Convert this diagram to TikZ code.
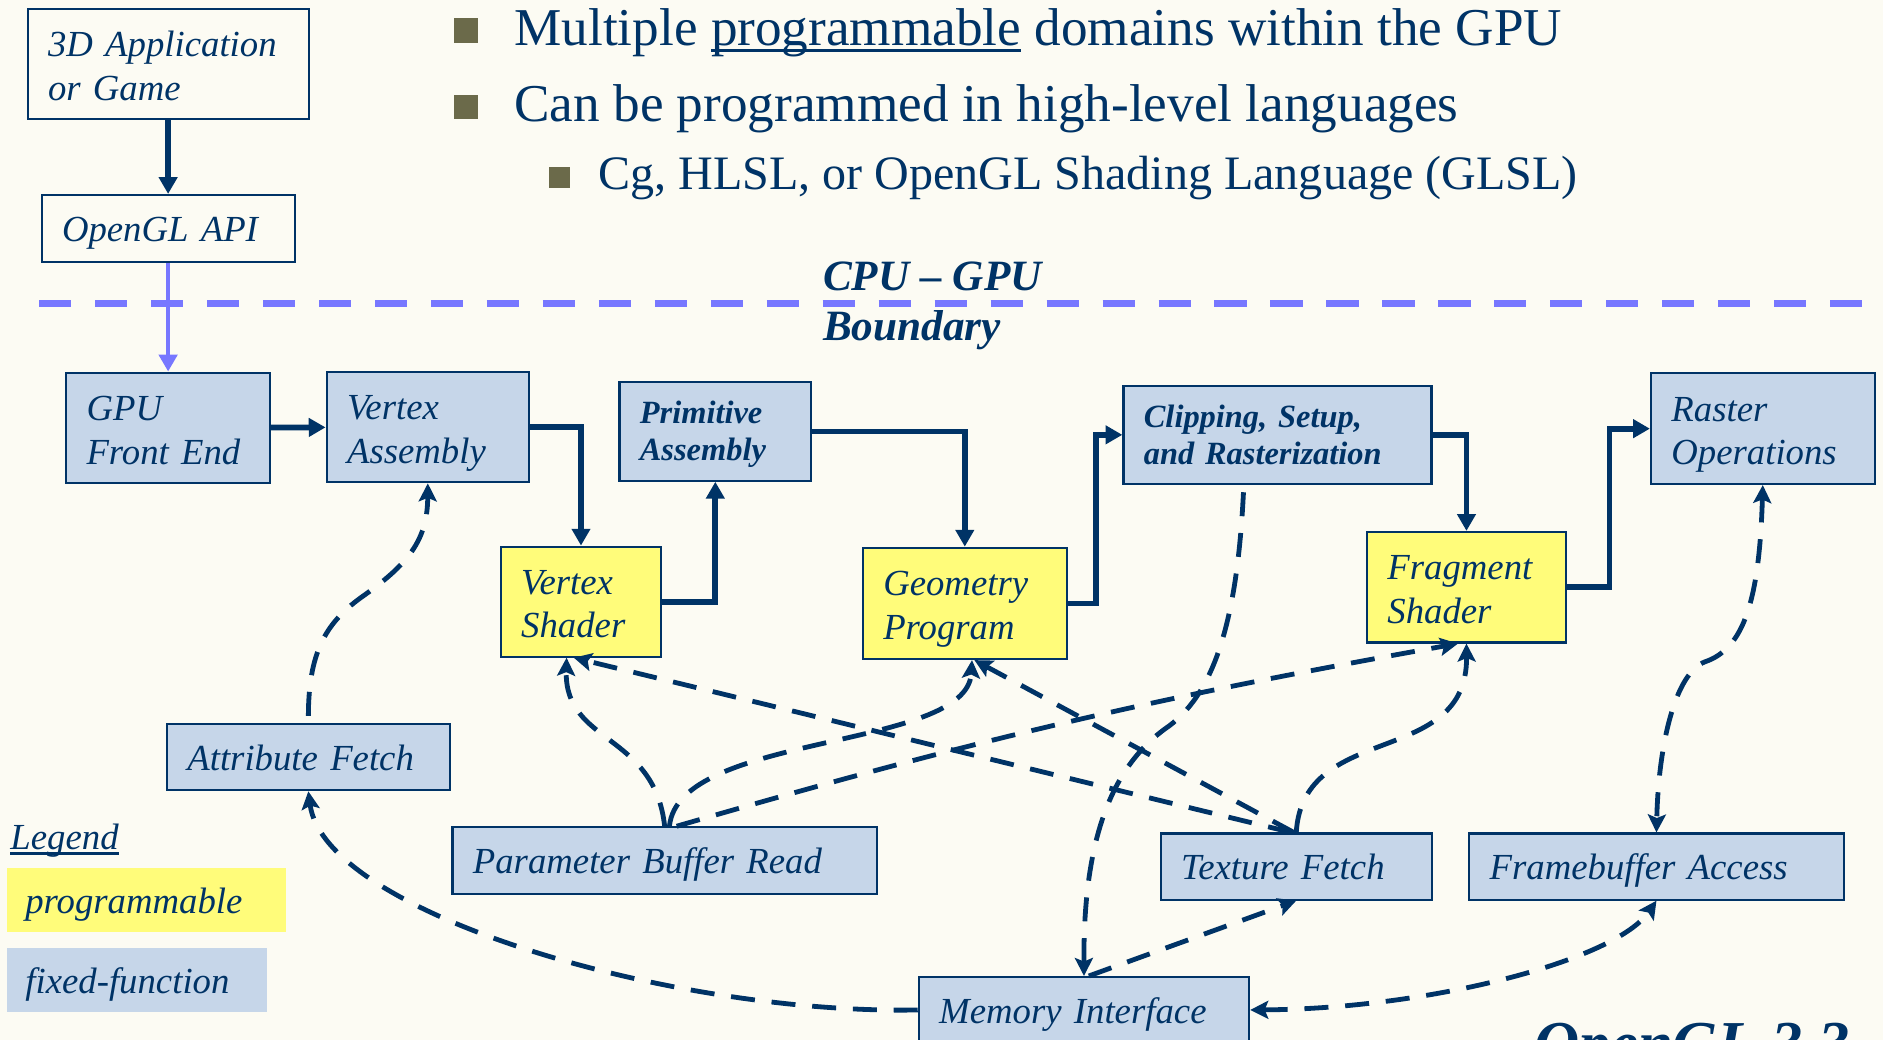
\documentclass[tikz,border=0pt]{standalone}
\usepackage{fontspec}
\setmainfont{Liberation Serif}
\usetikzlibrary{arrows.meta}
\definecolor{navy}{HTML}{003366}
\definecolor{fixblue}{HTML}{C6D6E9}
\definecolor{progyellow}{HTML}{FFFC7A}
\definecolor{bndblue}{HTML}{7777FF}
\definecolor{bulletcol}{HTML}{6B6A4A}
\definecolor{bgcol}{HTML}{FCFBF3}
\newcommand\pptul[3]{{\setbox0\hbox{#3}\rlap{\rule[#1]{\wd0}{#2}}\box0}}
\newcommand\pptboxfont{\fontsize{15.3}{18.1}\selectfont\itshape}
\newcommand\pptboldfont{\fontsize{13.5}{15.4}\selectfont\bfseries\itshape}
\begin{document}
\begin{tikzpicture}[x=0.5pt,y=-0.5pt,
  blk/.style={draw=navy, line width=0.9pt, inner xsep=8.5pt, inner ysep=0pt, align=left, text=navy, font=\pptboxfont},
  fixbox/.style={blk, fill=fixblue},
  progbox/.style={blk, fill=progyellow},
  oneline/.style={text height=11pt, text depth=0pt},
  twoline/.style={execute at begin node={\rule{0pt}{15.4pt}}, execute at end node={\rule[-3.5pt]{0pt}{3.5pt}}},
  boldtext/.style={font=\pptboldfont, execute at begin node={\rule{0pt}{12.5pt}}, execute at end node={\rule[-3.5pt]{0pt}{3.5pt}}},
  legbox/.style={inner xsep=7.5pt, inner ysep=0pt, align=left, text=navy, font=\pptboxfont, text height=11pt, text depth=0pt},
  bullettext/.style={anchor=base west, inner sep=0pt, text=navy},
  bulletsq/.style={fill=bulletcol, inner sep=0pt},
  flow/.style={draw=navy, line width=2.4pt, -{Triangle[length=7pt,width=7.5pt]}},
  apiflow/.style={draw=bndblue, line width=1.8pt, -{Triangle[length=7pt,width=7.5pt]}},
  access/.style={draw=navy, line width=2pt, dash pattern=on 10pt off 7pt},
  acctip/.style={-{Stealth[length=7.5pt,width=7.5pt,inset=1.5pt]}},
  acctwo/.style={{Stealth[length=7.5pt,width=7.5pt,inset=1.5pt]}-{Stealth[length=7.5pt,width=7.5pt,inset=1.5pt]}},
  boundary/.style={draw=bndblue, line width=2.8pt, dash pattern=on 13.4pt off 9.9pt}
]
\useasboundingbox (0,0) rectangle (1568,866);
\clip (0,0) rectangle (1568,866);
\fill[bgcol] (0,0) rectangle (1568,866);

% bullets
\node[bulletsq, minimum size=10.2pt] (sq1) at (388.1,25.4) {};
\node[bulletsq, minimum size=10pt] (sq2) at (388.1,89.1) {};
\node[bulletsq, minimum size=8.6pt] (sq3) at (466.1,147.8) {};
\node[bullettext, font=\fontsize{22.15}{26}\selectfont] (t1) at (428,37.5) {Multiple \pptul{-3.05pt}{1.4pt}{programmable} domains within the GPU};
\node[bullettext, font=\fontsize{22.15}{26}\selectfont] (t2) at (428,101.3) {Can be programmed in high-level languages};
\node[bullettext, font=\fontsize{20}{24}\selectfont] (t3) at (498,158.2) {Cg, HLSL, or OpenGL Shading Language (GLSL)};

% boundary
\coordinate (bndL) at (32.7,252.6);
\coordinate (bndR) at (1555,252.6);
\draw[boundary] (bndL) -- (bndR);
\node[bullettext, font=\fontsize{18}{21.6}\selectfont\bfseries\itshape] (cpu) at (685,241.5) {CPU – GPU};
\node[bullettext, font=\fontsize{18}{21.6}\selectfont\bfseries\itshape] (bnd) at (685,283.7) {Boundary};

% boxes
\node[blk, twoline, text width=100pt, minimum height=45.95pt] (app) at (140,53.45) {3D Application\\or Game};
\node[blk, oneline, text width=88.35pt, minimum height=27.75pt] (api) at (140,190.15) {OpenGL API};
\node[fixbox, twoline, text width=67.95pt, minimum height=46.1pt] (gfe) at (140,356.4) {GPU\\Front End};
\node[fixbox, twoline, text width=67.25pt, minimum height=46.05pt] (va) at (356.25,355.55) {Vertex\\Assembly};
\node[fixbox, boldtext, text width=62.85pt, minimum height=40.95pt] (pa) at (595.65,359.35) {Primitive\\Assembly};
\node[fixbox, boldtext, text width=111.25pt, minimum height=40.9pt] (clip) at (1063.75,362.1) {Clipping, Setup,\\and Rasterization};
\node[fixbox, twoline, text width=76.1pt, minimum height=46.05pt] (rop) at (1467.9,356.95) {Raster\\Operations};
\node[progbox, twoline, text width=49.8pt, minimum height=45.8pt] (vs) at (483.8,501) {Vertex\\Shader};
\node[progbox, twoline, text width=67.9pt, minimum height=46.35pt] (gp) at (803.4,502.45) {Geometry\\Program};
\node[progbox, twoline, text width=65.85pt, minimum height=46pt] (fs) at (1221.15,489) {Fragment\\Shader};
\node[fixbox, oneline, text width=100.75pt, minimum height=27.5pt] (af) at (256.75,630.5) {Attribute Fetch};
\node[fixbox, oneline, text width=159.65pt, minimum height=27.8pt] (pbr) at (553.45,716.7) {Parameter Buffer Read};
\node[fixbox, oneline, text width=95.8pt, minimum height=27.5pt] (tf) at (1079.4,721.6) {Texture Fetch};
\node[fixbox, oneline, text width=138.85pt, minimum height=27.5pt] (fba) at (1379.35,721.6) {Framebuffer Access};
\node[fixbox, oneline, text width=120.55pt, minimum height=27.4pt] (mi) at (902.65,841) {Memory Interface};

% legend
\node[bullettext, font=\pptboxfont] (legend) at (8.3,707.8) {\pptul{-2.1pt}{1.4pt}{Legend}};
\node[legbox, fill=progyellow, text width=101.05pt, minimum height=26.4pt] (legprog) at (122.15,749.4) {programmable};
\node[legbox, fill=fixblue, text width=92.95pt, minimum height=26.35pt] (legfix) at (114.05,816.05) {fixed-function};

% version label (cut by the page edge, as in the reference)
\node[bullettext, font=\fontsize{26}{30}\selectfont\bfseries\itshape] (ver) at (1277,886.4) {OpenGL 3.3};

% solid flow
\draw[flow] (app) -- (api);
\draw[apiflow] (api) -- (gfe);
\draw[flow] (gfe) -- (va);
\draw[flow] (va.east) -| (vs.north);
\draw[flow] (vs.east) -| (pa.south);
\draw[flow] (pa.east) -| (gp.north);
\draw[flow] (gp.east) -- ++(23.4,0) |- (clip.west);
\draw[flow] (clip.east) -| (fs.north);
\draw[flow] (fs.east) -- ++(35.4,0) |- (rop.west);

% dashed memory accesses
\draw[access, acctip, shorten <=3pt] (af.north) .. controls (257,545) and (270,520) .. (300,498) .. controls (340,470) and (356,450) .. (va.south);
\draw[access, acctip] (mi.west) .. controls (560,845) and (270,760) .. (af.south);
\draw[access, acctip] (pbr.north) .. controls (545,610) and (470,620) .. ([xshift=-6pt]vs.south);
\draw[access, acctip] ([xshift=2pt]pbr.north) .. controls (565,610) and (805,625) .. ([xshift=3pt]gp.south);
\draw[access, acctip] ([xshift=5pt]pbr.north) to[bend left=3] ([xshift=-3.5pt]fs.south);
\draw[access, acctip] ([xshift=-2pt]tf.north) -- ([xshift=-3pt]vs.south);
\draw[access, acctip] ([xshift=-1pt]tf.north) -- ([xshift=4pt]gp.south);
\draw[access, acctip] (tf.north) .. controls (1085,600) and (1222,640) .. (fs.south);
\draw[access, acctip, shorten <=3pt] ([xshift=-14pt]clip.south) .. controls (1030,520) and (1010,580) .. (970,607) .. controls (925,640) and (902,700) .. (mi.north);
\draw[access, acctip] ([xshift=2pt]mi.north) -- (tf.south);
\draw[access, acctwo] (rop.south) .. controls (1465,500) and (1452,540) .. (1420,551) .. controls (1395,560) and (1381,620) .. (fba.north);
\draw[access, acctwo] (mi.east) .. controls (1190,840) and (1345,800) .. (fba.south);
\end{tikzpicture}
\end{document}
